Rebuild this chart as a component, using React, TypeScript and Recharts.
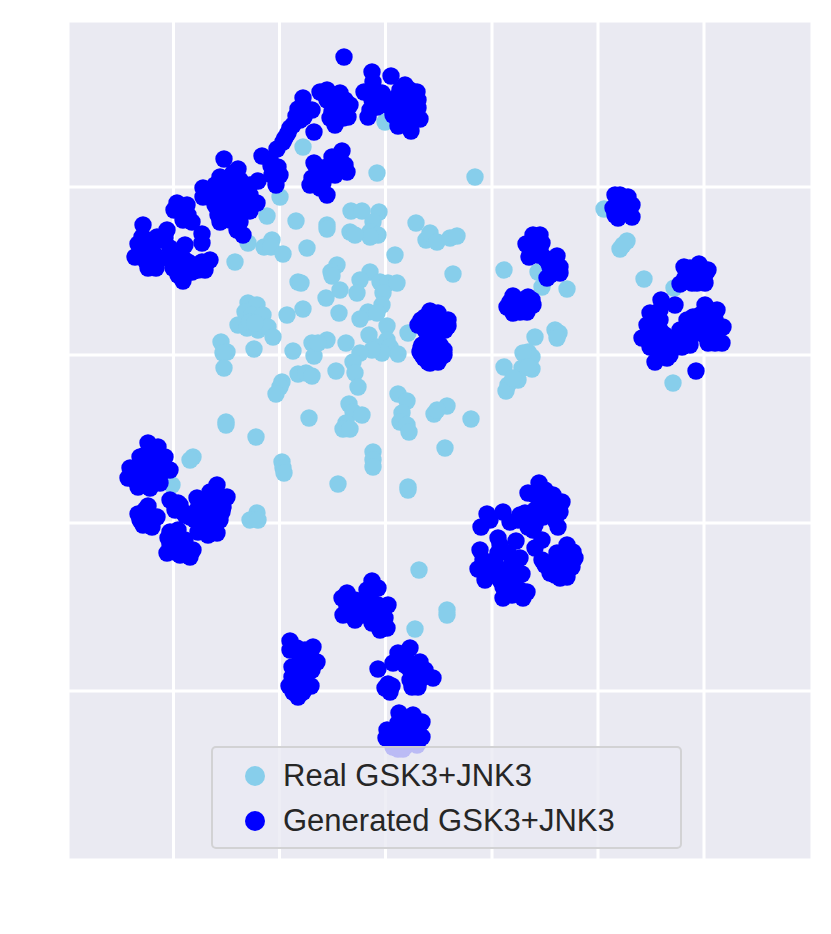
import { ScatterChart, Scatter, XAxis, YAxis, CartesianGrid } from 'recharts'

// Embedding coordinates. Axis ticks carry no labels in the figure.
const X_TICKS = [173.5, 279.5, 385.5, 492, 598, 704]
const Y_TICKS = [187, 355, 523, 691]

const REAL_UPPER = [
  [303,147],[377,173],[385,122],[280,197],[475,177],[604,209],[627,241],[620,249],[623,245],
  [267,216],[296,221],[327,225],[327,229],[351,211],[362,211],[379,212],[373,222],[370,232],[378,235],[370,237],
  [350,232],[355,235],[416,223],[426,240],[430,233],[437,242],[450,238],[457,236],[395,255],[453,274],
  [248,243],[264,247],[272,240],[271,247],[283,254],[307,248],[235,262],
  [504,270],[538,272],[542,287],[567,289],[644,279],[674,288],
]
const REAL_CENTER = [
  [337,265],[331,272],[332,276],[298,282],[301,283],[370,272],[360,280],[380,282],[388,283],[397,283],
  [357,293],[340,290],[326,298],[383,293],[382,305],[368,312],[377,313],[360,319],[339,313],[303,309],[287,315],
  [248,303],[257,305],[245,312],[252,315],[263,315],[238,325],[247,328],[258,330],[268,327],[273,337],[250,322],[255,323],
  [221,342],[227,352],[223,353],[224,368],[254,349],[293,351],[312,343],[327,340],[314,356],[318,343],[346,343],
  [369,335],[387,326],[408,333],[387,340],[377,347],[390,347],[398,354],[382,353],[372,350],[360,353],[353,362],
  [336,371],[355,373],[358,387],[298,374],[306,373],[312,376],[282,382],[280,387],[276,394],
  [535,337],[555,330],[559,333],[557,338],[504,367],[528,352],[532,357],[523,353],[522,368],[532,369],[528,367],
  [518,380],[508,385],[506,391],[513,378],[673,383],
]
const REAL_LOWER = [
  [398,394],[407,401],[402,413],[400,422],[407,425],[409,432],[349,404],[353,412],[362,415],[346,423],[343,429],[350,429],
  [434,414],[447,406],[437,410],[471,419],[445,448],[226,422],[226,425],[256,437],[309,418],
  [282,462],[283,468],[284,473],[373,452],[373,460],[373,467],[338,484],[408,487],[408,490],
  [193,457],[190,460],[172,485],[257,513],[250,520],[258,520],[419,570],[447,610],[447,615],[415,629],
]

const GEN_TOP = [
  [344,57],[372,72],[391,76],[373,82],[364,92],[382,93],[368,117],[377,107],[377,97],[387,105],
  [405,85],[417,92],[418,108],[420,119],[411,131],[398,126],[403,107],[397,97],[412,102],[407,118],[393,115],[413,120],
  [405,95],[410,110],[400,115],[415,112],[405,125],[395,105],[410,90],[400,90],[418,100],[390,100],[385,100],[380,102],[372,100],[370,110],
  [327,90],[340,93],[350,105],[348,117],[335,125],[330,118],[333,105],[327,100],[338,112],[320,92],
  [345,100],[335,98],[343,118],[332,112],[325,95],[340,105],
  [303,98],[298,109],[312,110],[304,117],[293,125],[288,133],[283,142],[314,132],[305,108],[296,116],[290,128],[285,138],[300,120],
  [277,149],[262,156],[278,167],[271,166],[276,185],[270,160],[280,175],[272,175],
  [342,151],[332,157],[314,163],[347,172],[337,167],[323,168],[312,178],[310,185],[323,183],[327,195],[320,188],
  [325,175],[335,175],[340,160],[330,165],[320,175],[318,185],[345,165],
]
const GEN_UPPER_LEFT = [
  [224,159],[238,169],[220,177],[203,188],[203,197],[258,181],[257,203],[250,211],[220,222],[218,215],[237,230],[243,235],
  [232,183],[233,197],[220,197],[245,190],[237,210],[227,210],[210,197],[247,200],[233,173],[237,223],
  [215,185],[225,190],[240,180],[250,185],[215,205],[225,200],[240,200],[245,210],[230,220],[225,215],[212,190],[235,190],[228,178],[240,222],[250,195],
  [177,203],[187,205],[174,210],[192,222],[183,220],[202,234],[202,243],[185,245],[167,230],[157,237],[180,210],[188,215],
  [143,225],[142,237],[138,244],[148,248],[135,257],[145,260],[148,268],[156,268],[150,253],
  [148,240],[145,250],[155,255],[160,240],[150,262],[165,238],
  [170,248],[175,260],[173,268],[188,262],[198,270],[205,270],[210,260],[202,262],[183,281],[185,270],[178,253],
  [172,255],[180,262],[190,270],[178,270],[180,265],[192,272],[178,275],[168,258],[195,265],[183,258],
]
const GEN_CENTER = [
  [425,317],[436,315],[447,322],[445,330],[418,325],[430,328],[422,345],[435,342],[444,350],[440,358],[428,362],[420,352],[432,352],
  [430,311],[438,313],[448,320],[448,326],[421,320],[428,318],[440,322],[434,330],[425,330],
  [421,348],[430,345],[440,345],[444,355],[438,362],[430,363],[424,358],[432,358],[422,355],
]
const GEN_RIGHT = [
  [615,195],[628,197],[632,205],[632,217],[618,218],[622,207],[613,208],[620,195],[625,200],[620,212],[628,212],[615,215],
  [533,235],[526,244],[542,243],[529,257],[538,255],[557,256],[560,267],[560,273],[547,278],[550,267],[545,258],
  [535,240],[530,250],[540,250],[548,262],[552,272],[555,262],[550,275],[540,235],
  [513,296],[528,297],[533,305],[507,307],[513,313],[527,312],[520,305],[515,300],[522,300],[520,312],[510,302],[532,300],
  [684,267],[699,264],[708,270],[705,283],[697,283],[680,284],[690,277],[690,268],[695,270],[700,275],[685,278],[705,275],[692,283],
  [661,300],[675,305],[650,313],[660,310],[647,325],[642,338],[655,327],[653,340],[650,347],[655,362],[667,358],[682,347],
  [677,337],[662,352],[687,320],[693,317],[690,335],[705,305],[717,310],[723,327],[722,343],[708,343],[700,327],[713,327],
  [707,318],[697,333],[652,320],[660,320],[665,335],[670,345],[660,345],[675,345],[660,330],[650,335],[680,330],[685,340],
  [695,325],[705,335],[715,320],[712,335],[700,315],[690,345],[715,343],[670,355],[696,371],
]
const GEN_LOWER_LEFT = [
  [148,443],[158,447],[165,457],[140,457],[170,470],[130,468],[128,478],[138,487],[150,488],[160,483],[147,467],[153,457],[157,473],[140,475],
  [145,455],[150,475],[145,480],[135,475],[155,465],[160,465],[165,470],[140,465],[150,450],[135,480],[150,480],[160,475],
  [148,506],[138,514],[143,525],[152,527],[157,517],[148,515],[170,500],[178,503],[183,512],[145,510],[150,520],[140,520],[175,510],[185,515],[180,505],
  [217,485],[210,492],[197,498],[227,497],[223,507],[197,510],[220,520],[217,533],[198,532],[208,535],[210,513],[190,517],
  [205,500],[215,495],[215,510],[205,520],[205,530],[195,520],[215,525],[222,512],[210,500],
  [170,532],[168,538],[167,553],[177,545],[180,555],[190,557],[193,550],[178,530],[175,540],[180,545],[170,545],[185,550],[175,552],[185,540],
]
const GEN_LOWER_RIGHT = [
  [539,483],[528,493],[553,495],[562,502],[560,512],[540,503],[525,513],[528,527],[543,517],[558,527],[533,530],[542,540],
  [535,495],[545,490],[550,505],[535,510],[545,510],[530,520],[535,525],[550,515],[555,520],[520,515],[535,515],
  [487,514],[481,527],[503,512],[510,522],[518,520],[490,520],[498,538],[516,541],[480,550],[478,569],[485,580],[490,563],[483,560],
  [498,553],[520,558],[522,574],[510,567],[503,587],[503,598],[512,595],[523,598],[527,592],[512,580],[508,553],
  [495,560],[490,572],[497,575],[505,570],[515,560],[510,580],[500,580],[515,590],[505,590],[520,590],[515,575],[500,545],
  [567,545],[575,558],[572,567],[567,577],[550,573],[542,560],[557,553],[560,563],[560,578],[573,552],
  [555,560],[565,555],[570,560],[550,565],[565,570],[555,575],[565,565],[545,565],[535,548],
]
const GEN_BOTTOM = [
  [372,581],[378,588],[367,590],[347,593],[342,598],[343,615],[355,620],[360,603],[347,607],[373,603],[388,605],[385,618],[372,623],[380,630],[387,628],[380,615],
  [355,600],[352,612],[360,612],[350,600],[365,600],[372,590],[375,610],[368,612],[378,605],[380,622],[375,618],[365,615],
  [290,641],[313,647],[290,650],[317,662],[292,667],[307,660],[300,657],[292,677],[289,686],[298,697],[311,686],[303,677],[307,667],[303,692],[293,692],
  [297,648],[305,650],[300,665],[297,670],[300,680],[310,655],[295,680],[300,690],[312,670],
  [410,648],[398,653],[378,669],[393,663],[407,660],[420,662],[425,670],[433,678],[412,687],[418,687],[417,677],[388,688],[385,688],[390,692],
  [405,665],[412,668],[400,660],[415,680],[405,655],[420,672],[410,670],[415,670],[420,680],[410,680],[388,684],[392,686],
  [399,713],[413,715],[422,722],[422,737],[387,730],[386,738],[398,723],[407,727],[413,737],[398,740],[393,747],[407,745],[417,745],
  [405,720],[395,730],[405,735],[415,725],[392,738],[402,742],[410,730],[418,730],[400,730],[398,749],[403,749],
]

const REAL_NAME = 'Real GSK3+JNK3'
const GENERATED_NAME = 'Generated GSK3+JNK3'
const REAL_COLOR = '#87ceeb'
const GENERATED_COLOR = '#0000ff'

const toPoints = (rows: number[][]) => rows.map(([x, y]) => ({ x, y }))
const realData = toPoints([...REAL_UPPER, ...REAL_CENTER, ...REAL_LOWER])
const generatedData = toPoints([
  ...GEN_TOP, ...GEN_UPPER_LEFT, ...GEN_CENTER, ...GEN_RIGHT, ...GEN_LOWER_LEFT, ...GEN_LOWER_RIGHT, ...GEN_BOTTOM,
])

const dot = (fill: string) => (p: any) => <circle cx={p.cx} cy={p.cy} r={8.7} fill={fill} />
const noTick = () => <g />

function LegendBox() {
  const rows = [[REAL_NAME, REAL_COLOR], [GENERATED_NAME, GENERATED_COLOR]]
  return (
    <div style={{
      position: 'absolute', left: 211, top: 746, boxSizing: 'border-box', width: 471, height: 103, paddingTop: 5,
      background: 'rgba(234,234,242,0.8)', border: '2.5px solid rgba(204,204,204,0.8)', borderRadius: 5,
    }}>
      {rows.map(([name, color]) => (
        <div key={name} style={{ display: 'flex', alignItems: 'center', height: 45 }}>
          <span style={{ width: 20, height: 20, borderRadius: 10, background: color, marginLeft: 32, marginRight: 18 }} />
          <span style={{ fontFamily: '"Liberation Sans", Arial, sans-serif', fontSize: 31, color: '#262626', whiteSpace: 'nowrap' }}>{name}</span>
        </div>
      ))}
    </div>
  )
}

export default function App() {
  return (
    <div style={{ position: 'absolute', left: 0, top: 0, width: 831, height: 934, background: '#fff' }}>
      <ScatterChart width={831} height={934} margin={{ top: 21, right: 19, bottom: 74, left: 68 }}>
        <CartesianGrid fill="#eaeaf2" fillOpacity={1} stroke="#fff" strokeWidth={3} />
        <XAxis type="number" dataKey="x" domain={[68, 812]} ticks={X_TICKS} interval={0} height={0} tick={noTick} tickLine={false} axisLine={false} />
        <YAxis type="number" dataKey="y" domain={[21, 860]} reversed ticks={Y_TICKS} interval={0} width={0} tick={noTick} tickLine={false} axisLine={false} />
        <Scatter name={REAL_NAME} data={realData} fill={REAL_COLOR} shape={dot(REAL_COLOR)} isAnimationActive={false} />
        <Scatter name={GENERATED_NAME} data={generatedData} fill={GENERATED_COLOR} shape={dot(GENERATED_COLOR)} isAnimationActive={false} />
      </ScatterChart>
      <LegendBox />
    </div>
  )
}
